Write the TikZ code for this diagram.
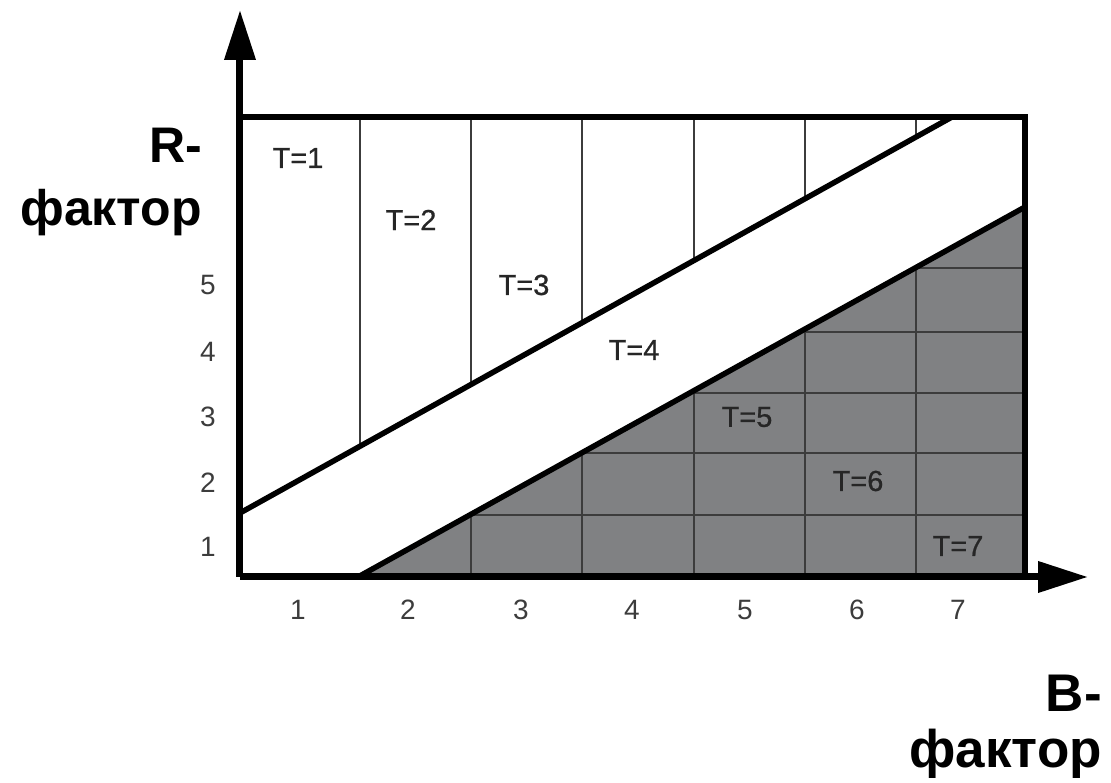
\documentclass[tikz,border=0pt]{standalone}
\usepackage{fontspec}
\setmainfont{Liberation Sans}
\newfontfamily\zonefont[FakeBold=0.8]{Liberation Sans}
\usetikzlibrary{arrows.meta}

\definecolor{cellgray}{RGB}{128,129,131}
\definecolor{linegray}{RGB}{60,60,60}

\begin{document}
\begin{tikzpicture}[x=1pt, y=1pt,
    axis/.style = {line width=7pt, -{Triangle[length=50pt, width=30pt]}},
    border/.style = {line width=5.5pt},
    thin/.style = {line width=1.5pt, draw=linegray},
    tick/.style = {font=\fontsize{28}{30}\selectfont, text=linegray},
    zone/.style = {font=\zonefont\fontsize{29}{30}\selectfont, text=black!85}]

    \useasboundingbox (-240,-206) rectangle (871,577);

    % shaded region under the lower line
    \fill[cellgray] (118,0) -- (785,370) -- (785,0) -- cycle;
    \begin{scope}
        \clip (118,0) -- (785,370) -- (785,0) -- cycle;
        \draw[thin] (231,0) -- (231,460);
        \draw[thin] (342,0) -- (342,460);
        \draw[thin] (454,0) -- (454,460);
        \draw[thin] (565,0) -- (565,460);
        \draw[thin] (676,0) -- (676,460);
        \draw[thin] (0,62) -- (785,62);
        \draw[thin] (0,124) -- (785,124);
        \draw[thin] (0,184) -- (785,184);
        \draw[thin] (0,245) -- (785,245);
        \draw[thin] (0,309) -- (785,309);
    \end{scope}

    % columns above the upper line
    \begin{scope}
        \clip (0,64) -- (712,460) -- (0,460) -- cycle;
        \draw[thin] (120,0) -- (120,460);
        \draw[thin] (231,0) -- (231,460);
        \draw[thin] (342,0) -- (342,460);
        \draw[thin] (454,0) -- (454,460);
        \draw[thin] (565,0) -- (565,460);
        \draw[thin] (676,0) -- (676,460);
    \end{scope}

    \coordinate (o) at (0,0);
    \coordinate (ytip) at (0,567);
    \coordinate (xtip) at (848,0);
    \coordinate (tl) at (0,460);
    \coordinate (tr) at (785,460);
    \coordinate (br) at (785,0);
    \coordinate (ua) at (0,64);
    \coordinate (ub) at (712,460);
    \coordinate (la) at (118,0);
    \coordinate (lb) at (785,370);

    % frame and the two boundary lines
    \draw[border] (tl) -- (tr) -- (br);
    \draw[border] (ua) -- (ub);
    \draw[border] (la) -- (lb);

    % axes
    \draw[axis] (o) -- (ytip);
    \draw[axis] (o) -- (xtip);

    % zone labels
    \node[zone] (t1) at (58,419) {T=1};
    \node[zone] (t2) at (171,357) {T=2};
    \node[zone] (t3) at (284,292) {T=3};
    \node[zone] (t4) at (394,227) {T=4};
    \node[zone] (t5) at (507,160) {T=5};
    \node[zone] (t6) at (618,96) {T=6};
    \node[zone] (t7) at (718,31) {T=7};

    % tick labels
    \node[tick] (x1) at (58,-33) {1};
    \node[tick] (x2) at (168,-33) {2};
    \node[tick] (x3) at (281,-33) {3};
    \node[tick] (x4) at (392,-33) {4};
    \node[tick] (x5) at (505,-33) {5};
    \node[tick] (x6) at (617,-33) {6};
    \node[tick] (x7) at (718,-33) {7};
    \node[tick] (y1) at (-32,30) {1};
    \node[tick] (y2) at (-32,94) {2};
    \node[tick] (y3) at (-32,160) {3};
    \node[tick] (y4) at (-32,225) {4};
    \node[tick] (y5) at (-32,292) {5};

    % axis titles (base = last line)
    \node[anchor=base east, align=right, inner sep=0pt,
          font=\bfseries\fontsize{50}{63}\selectfont] (rlabel) at (-38,351)
        {R-\\фактор};
    \node[anchor=base east, align=right, inner sep=0pt,
          font=\bfseries\fontsize{53}{56}\selectfont] (blabel) at (862,-191)
        {B-\\фактор};

\end{tikzpicture}
\end{document}
